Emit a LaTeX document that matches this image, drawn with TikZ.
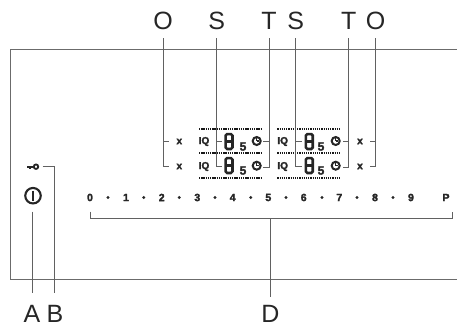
\documentclass[tikz,border=0pt]{standalone}
\usepackage{fontspec}
\setmainfont{Liberation Sans}
\newfontfamily\heavyfont[FakeBold=2.5]{Liberation Sans Bold}
\tikzset{
  pix/.style={x=1pt,y=-1pt},
  letter/.style={inner sep=0pt,text=black!85,font=\fontsize{25}{25}\selectfont},
  lead/.style={draw=black!62,line width=1pt},
  frame/.style={draw=black!58,line width=1pt},
  level/.style={inner sep=0pt,text=black!85,font=\fontsize{10.5}{10.5}\heavyfont},
  spot/.style={circle,fill=black!85,inner sep=0pt,minimum size=3.2pt},
  dots/.style={draw=black!90,line width=1.8pt,dash pattern=on 1.3pt off .9pt},
  segment/.style={draw=black!85,line width=2.6pt,rounded corners=1.5pt},
  window/.style={inner sep=0pt,minimum width=6.5pt,minimum height=14.5pt},
  sign/.style={inner sep=0pt,text=black!85,font=\fontsize{10}{10}\heavyfont},
  tiny5/.style={inner sep=0pt,text=black!85,font=\fontsize{12}{12}\heavyfont},
  timer/.style={circle,draw=black!85,line width=2pt,inner sep=0pt,minimum size=8pt},
  hand/.style={line width=1.4pt,black!85},
}
\begin{document}
\begin{tikzpicture}[pix]
\useasboundingbox (0,0) rectangle (457,324);
% panel
\draw[frame] (457,49.5) -- (10.5,49.5) -- (10.5,279.3) -- (457,279.3);
% letters on top
\node[letter] (labelO) at (163,20.5) {O};
\node[letter] (labelS) at (216.7,20.5) {S};
\node[letter] (labelT) at (269,20.5) {T};
\node[letter] (labelSS) at (295.7,20.5) {S};
\node[letter] (labelTT) at (348.7,20.5) {T};
\node[letter] (labelOO) at (375.5,20.5) {O};
% letters below
\node[letter,anchor=base] (labelA) at (32,322) {A};
\node[letter,anchor=base] (labelB) at (55,322) {B};
\node[letter,anchor=base] (labelD) at (270.5,322) {D};
% left hob
\draw[dots] (199,129.3) -- (262,129.3);
\draw[dots] (199,153.3) -- (262,153.3);
\draw[dots] (199,178.3) -- (262,178.3);
\node[sign] (off1) at (179.3,141.5) {x};
\node[sign] (off2) at (179.3,166.5) {x};
\node[sign] (boost1) at (204,141.5) {IQ};
\node[sign] (boost2) at (204,166.5) {IQ};
\node[window] (step1) at (229,141.5) {};
\node[window] (step2) at (229,165.5) {};
\draw[segment] (step1.south west) rectangle (step1.north east);
\draw[segment] (step1.west) -- (step1.east);
\draw[segment] (step2.south west) rectangle (step2.north east);
\draw[segment] (step2.west) -- (step2.east);
\node[tiny5] (five1) at (243,146.5) {5};
\node[tiny5] (five2) at (243,170.5) {5};
\node[timer] (clock1) at (256.7,141) {};
\node[timer] (clock2) at (256.7,165.7) {};
\draw[hand] (clock1.center) -- +(0,-2.6) (clock1.center) -- +(2.6,0);
\draw[hand] (clock2.center) -- +(0,-2.6) (clock2.center) -- +(2.6,0);
% right hob
\draw[dots] (277.3,129.3) -- (340.7,129.3);
\draw[dots] (277.3,153.3) -- (340.7,153.3);
\draw[dots] (277.3,178.3) -- (340.7,178.3);
\node[sign] (boost3) at (282.7,141.5) {IQ};
\node[sign] (boost4) at (282.7,166.5) {IQ};
\node[window] (step3) at (309.3,141.5) {};
\node[window] (step4) at (309.3,165.5) {};
\draw[segment] (step3.south west) rectangle (step3.north east);
\draw[segment] (step3.west) -- (step3.east);
\draw[segment] (step4.south west) rectangle (step4.north east);
\draw[segment] (step4.west) -- (step4.east);
\node[tiny5] (five3) at (321,146.5) {5};
\node[tiny5] (five4) at (321,170.5) {5};
\node[timer] (clock3) at (335.7,141) {};
\node[timer] (clock4) at (335.7,165.7) {};
\draw[hand] (clock3.center) -- +(0,-2.6) (clock3.center) -- +(2.6,0);
\draw[hand] (clock4.center) -- +(0,-2.6) (clock4.center) -- +(2.6,0);
\node[sign] (off3) at (360,141.5) {x};
\node[sign] (off4) at (360,166.5) {x};
% key and power
\node[circle,draw=black!85,line width=1.8pt,inner sep=0pt,minimum size=4.5pt] (key) at (36,166.7) {};
\draw[line width=2.4pt,black!85] (key.west) -- (27,166.7);
\draw[line width=1.4pt,black!85] (30,166.7) -- (30,169.2);
\node[circle,draw=black!85,line width=2.1pt,inner sep=0pt,minimum size=15.5pt] (power) at (33,195.7) {};
\draw[line width=2.6pt,black!85] (33,190.5) -- (33,200.9);
% scale
\node[level] (lev0) at (90,197.5) {0};
\node[spot] (dot0) at (108,197.5) {};
\node[level] (lev1) at (126,197.5) {1};
\node[spot] (dot1) at (143.7,197.5) {};
\node[level] (lev2) at (161.7,197.5) {2};
\node[spot] (dot2) at (179.3,197.5) {};
\node[level] (lev3) at (197.3,197.5) {3};
\node[spot] (dot3) at (215,197.5) {};
\node[level] (lev4) at (232.7,197.5) {4};
\node[spot] (dot4) at (250.7,197.5) {};
\node[level] (lev5) at (268.3,197.5) {5};
\node[spot] (dot5) at (286,197.5) {};
\node[level] (lev6) at (303.7,197.5) {6};
\node[spot] (dot6) at (322,197.5) {};
\node[level] (lev7) at (339.3,197.5) {7};
\node[spot] (dot7) at (357,197.5) {};
\node[level] (lev8) at (375,197.5) {8};
\node[spot] (dot8) at (393,197.5) {};
\node[level] (lev9) at (411,197.5) {9};
\node[level] (levP) at (446,197.5) {P};
% leaders
\coordinate (endO) at (163.3,38);
\coordinate (endS) at (216.7,38);
\coordinate (endT) at (269,38);
\coordinate (endSS) at (295.7,38);
\coordinate (endTT) at (348.9,38);
\coordinate (endOO) at (375.5,38);
\draw[lead] (endO) |- (168.5,166.7);
\draw[lead] (163.3,141.5) -- (168.5,141.5);
\draw[lead] (endS) |- (221.7,166.7);
\draw[lead] (216.7,141.5) -- (221.7,141.5);
\draw[lead] (endT) |- (263,167);
\draw[lead] (269,141.5) -- (263,141.5);
\draw[lead] (endSS) |- (301.7,166.7);
\draw[lead] (295.7,141.5) -- (301.7,141.5);
\draw[lead] (endTT) |- (342.7,167);
\draw[lead] (348.9,141.5) -- (342.7,141.5);
\draw[lead] (endOO) |- (370,166.7);
\draw[lead] (375.5,141.5) -- (370,141.5);
\coordinate (endA) at (32.7,293);
\coordinate (endB) at (54.3,293);
\coordinate (endD) at (270.3,296.7);
\draw[lead] (32.7,211.7) -- (endA);
\draw[lead] (42.7,166.3) -| (endB);
\draw[lead] (90.7,211.7) |- (452.7,218.3) -- (452.7,211.7);
\draw[lead] (270.3,218.3) -- (endD);
\end{tikzpicture}
\end{document}
